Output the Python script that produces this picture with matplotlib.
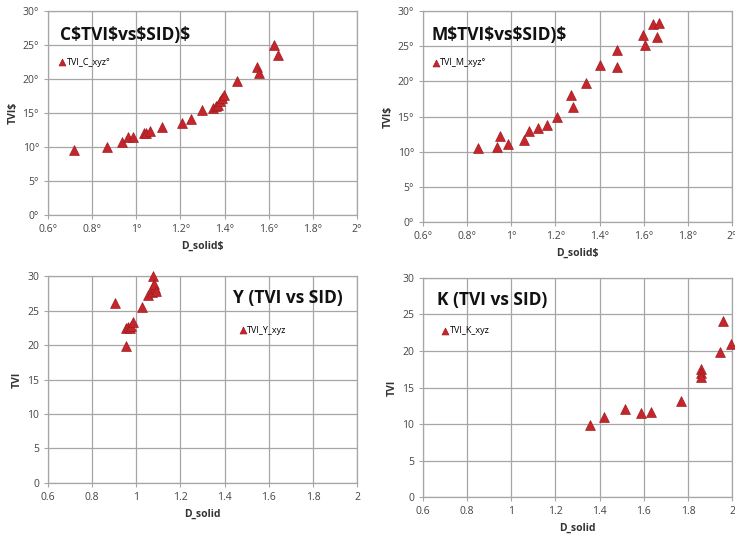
import matplotlib.pyplot as plt

plt.rcParams['font.family'] = ['Open Sans', 'DejaVu Sans']

# Data
c_x = [0.716, 0.868, 0.936, 0.963, 0.986, 1.034, 1.046, 1.06, 1.118, 1.205, 1.25,
       1.296, 1.349, 1.36, 1.37, 1.38, 1.387, 1.397, 1.458, 1.546, 1.558, 1.625, 1.644]
c_y = [9.5, 10.0, 10.7, 11.4, 11.5, 12.0, 12.1, 12.4, 12.9, 13.6, 14.1,
       15.4, 15.7, 16.0, 16.2, 16.7, 17.2, 17.7, 19.7, 21.8, 20.9, 25.0, 23.5]

m_x = [0.85, 0.936, 0.948, 0.986, 1.059, 1.081, 1.119, 1.16, 1.208, 1.27, 1.281,
       1.339, 1.4, 1.478, 1.478, 1.599, 1.608, 1.644, 1.671, 1.662]
m_y = [10.5, 10.6, 12.2, 11.1, 11.6, 13.0, 13.4, 13.8, 14.9, 18.0, 16.3,
       19.8, 22.3, 24.5, 22.1, 26.6, 25.1, 28.1, 28.3, 26.3]

y_x = [0.903, 0.953, 0.953, 0.963, 0.97, 0.978, 0.986, 1.028, 1.054, 1.069,
       1.077, 1.077, 1.084, 1.08, 1.09]
y_y = [26.1, 19.9, 22.5, 22.6, 22.4, 22.7, 23.4, 25.5, 27.2, 27.7,
       30.0, 28.6, 28.2, 28.9, 27.8]

k_x = [1.357, 1.422, 1.517, 1.588, 1.633, 1.769, 1.86, 1.86, 1.86, 1.946, 1.96, 1.995]
k_y = [9.8, 10.9, 12.0, 11.5, 11.7, 13.2, 17.6, 17.0, 16.4, 19.9, 24.1, 20.9]

x_ticks = [0.6, 0.8, 1.0, 1.2, 1.4, 1.6, 1.8, 2.0]
y_ticks = [0, 5, 10, 15, 20, 25, 30]
x_labels_plain = ['0.6', '0.8', '1', '1.2', '1.4', '1.6', '1.8', '2']
y_labels_plain = ['0', '5', '10', '15', '20', '25', '30']

red = '#c4262c'
grid_col = '#a6a6a6'

fig = plt.figure(figsize=(7.35, 5.35), dpi=100)

panels = [
    # rect, x, y, title, legend, xlabel, ylabel, deg, title pos, legend pos
    ([0.0653, 0.5981, 0.4204, 0.3813], c_x, c_y, r'C\$TVI\$vs\$SID)\$', 'TVI_C_xyz\u00b0',
     r'D_solid\$', r'TVI\$', True, (0.039, 0.882), (0.035, 0.75)),
    ([0.5755, 0.5850, 0.4204, 0.3944], m_x, m_y, r'M\$TVI\$vs\$SID)\$', 'TVI_M_xyz\u00b0',
     r'D_solid\$', r'TVI\$', True, (0.029, 0.886), (0.029, 0.754)),
    ([0.0653, 0.0972, 0.4204, 0.3869], y_x, y_y, 'Y (TVI vs SID)', 'TVI_Y_xyz',
     'D_solid', 'TVI', False, (0.599, 0.894), (0.618, 0.739)),
    ([0.5755, 0.0710, 0.4204, 0.4094], k_x, k_y, 'K (TVI vs SID)', 'TVI_K_xyz',
     'D_solid', 'TVI', False, (0.045, 0.90), (0.061, 0.758)),
]

for rect, xs, ys, title, leg, xl, yl, deg, tpos, lpos in panels:
    ax = fig.add_axes(rect)
    ax.scatter(xs, ys, marker='^', s=50, color=red, edgecolors='#a01c20',
               linewidths=0.5, zorder=3, label=leg, clip_on=False)
    ax.set_xlim(0.6, 2.0)
    ax.set_ylim(0, 30)
    ax.set_xticks(x_ticks)
    ax.set_yticks(y_ticks)
    if deg:
        ax.set_xticklabels([s + '\u00b0' for s in x_labels_plain])
        ax.set_yticklabels([s + '\u00b0' for s in y_labels_plain])
    else:
        ax.set_xticklabels(x_labels_plain)
        ax.set_yticklabels(y_labels_plain)
    ax.tick_params(labelsize=7.5, colors='#444444', length=3, color=grid_col)
    ax.grid(True, color=grid_col, linewidth=0.9)
    ax.set_axisbelow(True)
    for sp in ax.spines.values():
        sp.set_color(grid_col)
        sp.set_linewidth(0.9)
    ax.set_xlabel(xl, fontsize=7.5, fontweight='bold', color='#333333', labelpad=4)
    ax.set_ylabel(yl, fontsize=7.5, fontweight='bold', color='#333333', labelpad=3)
    ax.text(tpos[0], tpos[1], title, transform=ax.transAxes, fontsize=12.5,
            fontweight='bold', color='#111111', va='center', ha='left')
    ax.legend(loc='center left', bbox_to_anchor=lpos, frameon=False, fontsize=6.5,
              handlelength=0.8, handletextpad=0.1, borderpad=0, borderaxespad=0,
              markerscale=0.7)

fig.savefig('out.png', dpi=100)
